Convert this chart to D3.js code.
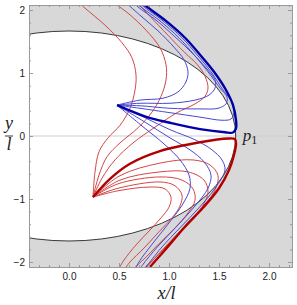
<!DOCTYPE html>
<html>
<head>
<meta charset="utf-8">
<script src="https://cdn.jsdelivr.net/npm/d3@7"></script>
<style>
  body { margin: 0; background: #fff; }
  .tick text { font-family: "Liberation Sans", "DejaVu Sans", sans-serif; font-size: 10px; fill: #222; }
</style>
</head>
<body>
<svg id="chart" width="297" height="305"></svg>
<script>
// ---- data (x/l, y/l) ----
const xTicks = [0, 0.5, 1, 1.5, 2];
const yTicks = [-2, -1, 0, 1, 2];
const xTickLabels = ["0.0", "0.5", "1.0", "1.5", "2.0"];
const yTickLabels = ["\u22122", "\u22121", "0", "1", "2"];
const boundaryRadius = 1.667;
const p1 = [1.667, 0];

// blue family, launched from (0.48, 0.49)
const blueThin = [
  [[0.48,0.49],[0.71,0.57],[0.94,0.60],[1.09,0.70],[1.17,0.86],[1.19,1.02],[1.15,1.21],[1.05,1.41],[0.89,1.67],[0.73,1.89],[0.56,2.13],[0.54,2.16]],
  [[0.48,0.49],[0.71,0.52],[1.01,0.52],[1.26,0.57],[1.40,0.65],[1.46,0.76],[1.46,0.89],[1.37,1.08],[1.23,1.32],[1.07,1.56],[0.87,1.84],[0.69,2.05],[0.62,2.16]],
  [[0.48,0.49],[0.71,0.48],[1.01,0.44],[1.31,0.43],[1.49,0.44],[1.57,0.51],[1.58,0.62],[1.51,0.76],[1.39,1.02],[1.25,1.29],[1.10,1.56],[0.90,1.84],[0.72,2.05],[0.65,2.16]],
  [[0.48,0.49],[0.71,0.44],[1.01,0.37],[1.31,0.30],[1.53,0.25],[1.62,0.27],[1.65,0.37],[1.63,0.54],[1.54,0.73],[1.42,1.02],[1.28,1.29],[1.13,1.56],[0.93,1.84],[0.75,2.05],[0.67,2.16]],
  [[0.48,0.49],[0.76,0.29],[1.01,0.10],[1.26,-0.06],[1.43,-0.22],[1.53,-0.38],[1.56,-0.54],[1.46,-0.83],[1.30,-1.14],[1.12,-1.44],[0.92,-1.78],[0.77,-2.08],[0.73,-2.16]],
  [[0.48,0.49],[0.76,0.22],[1.01,-0.03],[1.21,-0.22],[1.35,-0.41],[1.42,-0.62],[1.39,-0.83],[1.26,-1.11],[1.08,-1.43],[0.89,-1.75],[0.73,-2.06],[0.69,-2.16]],
  [[0.48,0.49],[0.73,0.16],[0.96,-0.14],[1.11,-0.38],[1.20,-0.62],[1.21,-0.83],[1.13,-1.10],[0.99,-1.40],[0.84,-1.70],[0.70,-2.00],[0.65,-2.16]]
];
const blueThick = [[0.48,0.49],[0.78,0.30],[1.01,0.21],[1.31,0.11],[1.56,0.06],[1.64,0.055],[1.67,0.12],[1.67,0.25],[1.64,0.49],[1.57,0.73],[1.45,1.02],[1.31,1.29],[1.16,1.56],[0.96,1.84],[0.78,2.05],[0.69,2.16]];

// red family, launched from (0.24, -0.97)
const redThin = [
  [[0.24,-0.97],[0.26,-0.57],[0.30,-0.25],[0.39,-0.03],[0.51,0.17],[0.61,0.44],[0.66,0.73],[0.67,0.97],[0.63,1.24],[0.53,1.48],[0.36,1.76],[0.16,2.03],[0.07,2.16]],
  [[0.24,-0.97],[0.30,-0.62],[0.38,-0.33],[0.51,-0.11],[0.69,0.13],[0.83,0.38],[0.92,0.63],[0.97,0.89],[0.97,1.13],[0.91,1.40],[0.77,1.68],[0.59,1.95],[0.43,2.13],[0.40,2.16]],
  [[0.24,-0.97],[0.33,-0.67],[0.46,-0.38],[0.64,-0.11],[0.86,0.14],[1.08,0.37],[1.26,0.51],[1.36,0.63],[1.39,0.76],[1.36,0.95],[1.28,1.14],[1.16,1.32],[0.99,1.60],[0.81,1.90],[0.69,2.11],[0.67,2.16]],
  [[0.24,-0.97],[0.51,-0.63],[0.91,-0.43],[1.24,-0.38],[1.41,-0.46],[1.49,-0.63],[1.45,-0.89],[1.31,-1.17],[1.14,-1.46],[0.95,-1.78],[0.79,-2.06],[0.75,-2.14]],
  [[0.24,-0.97],[0.51,-0.70],[0.91,-0.57],[1.19,-0.57],[1.35,-0.70],[1.39,-0.89],[1.33,-1.13],[1.19,-1.40],[1.02,-1.68],[0.85,-1.95],[0.72,-2.14]],
  [[0.24,-0.97],[0.49,-0.76],[0.91,-0.65],[1.13,-0.70],[1.24,-0.84],[1.26,-1.02],[1.19,-1.22],[1.06,-1.46],[0.90,-1.71],[0.74,-1.97],[0.62,-2.14]],
  [[0.24,-0.97],[0.49,-0.83],[0.91,-0.73],[1.06,-0.79],[1.13,-0.94],[1.11,-1.11],[1.03,-1.30],[0.90,-1.52],[0.75,-1.78],[0.61,-2.00],[0.55,-2.13]],
  [[0.24,-0.97],[0.49,-0.87],[0.81,-0.81],[0.96,-0.84],[1.02,-0.97],[1.00,-1.13],[0.92,-1.30],[0.80,-1.51],[0.67,-1.73],[0.55,-1.97],[0.49,-2.13]]
];
const redThick = [[0.24,-0.97],[0.41,-0.68],[0.61,-0.44],[0.91,-0.24],[1.31,-0.10],[1.59,-0.04],[1.66,-0.05],[1.67,-0.13],[1.65,-0.30],[1.60,-0.54],[1.50,-0.83],[1.34,-1.14],[1.16,-1.44],[0.96,-1.81],[0.81,-2.08],[0.77,-2.16]];

// ---- layout ----
const margin = { left: 29, right: 5, top: 5, bottom: 38 };
const width = 297, height = 305;
const innerW = width - margin.left - margin.right;
const innerH = height - margin.top - margin.bottom;

const x = d3.scaleLinear().domain([-0.4, 2.23]).range([0, innerW]);
const y = d3.scaleLinear().domain([-2.08, 2.08]).range([innerH, 0]);

const svg = d3.select("#chart");
const g = svg.append("g").attr("transform", `translate(${margin.left},${margin.top})`);

g.append("clipPath").attr("id", "clip")
  .append("rect").attr("width", innerW).attr("height", innerH);

const plot = g.append("g").attr("clip-path", "url(#clip)");

// gray background, white disk
plot.append("rect").attr("width", innerW).attr("height", innerH).attr("fill", "#d8d8d8");
plot.append("ellipse")
  .attr("cx", x(0)).attr("cy", y(0))
  .attr("rx", x(boundaryRadius) - x(0))
  .attr("ry", y(0) - y(boundaryRadius))
  .attr("fill", "#fff");

// y = 0 grid line
plot.append("line")
  .attr("x1", 0).attr("x2", innerW)
  .attr("y1", y(0)).attr("y2", y(0))
  .attr("stroke", "#cfcfcf").attr("stroke-width", 1);

plot.append("ellipse")
  .attr("cx", x(0)).attr("cy", y(0))
  .attr("rx", x(boundaryRadius) - x(0))
  .attr("ry", y(0) - y(boundaryRadius))
  .attr("fill", "none").attr("stroke", "#222").attr("stroke-width", 0.9);

const line = d3.line()
  .x((d) => x(d[0]))
  .y((d) => y(d[1]))
  .curve(d3.curveCatmullRom.alpha(0.5));

plot.selectAll(".red-thin").data(redThin).enter()
  .append("path").attr("class", "red-thin")
  .attr("d", line).attr("fill", "none")
  .attr("stroke", "#d24646").attr("stroke-width", 1);

plot.selectAll(".blue-thin").data(blueThin).enter()
  .append("path").attr("class", "blue-thin")
  .attr("d", line).attr("fill", "none")
  .attr("stroke", "#4848d4").attr("stroke-width", 1);

plot.append("path").datum(redThick)
  .attr("d", line).attr("fill", "none")
  .attr("stroke", "#b00000").attr("stroke-width", 2.4);

plot.append("path").datum(blueThick)
  .attr("d", line).attr("fill", "none")
  .attr("stroke", "#0000aa").attr("stroke-width", 2.4);

// ---- frame and ticks ----
const frameColor = "#9a9a9a";
const xMinor = d3.range(-0.4, 2.2301, 0.1).filter((v) => Math.abs(Math.round(v * 2) / 2 - v) > 1e-6);
const yMinor = d3.range(-2.0, 2.0001, 0.2).filter((v) => Math.abs(Math.round(v) - v) > 1e-6);

function styleAxis(sel) {
  sel.select(".domain").attr("stroke", frameColor);
  sel.selectAll(".tick line").attr("stroke", frameColor);
}

g.append("g").attr("transform", `translate(0,${innerH})`)
  .call(d3.axisBottom(x).tickValues(xTicks).tickSize(-4).tickPadding(6)
    .tickFormat((d, i) => xTickLabels[i]))
  .call(styleAxis);
g.append("g").attr("transform", `translate(0,${innerH})`)
  .call(d3.axisBottom(x).tickValues(xMinor).tickSize(-2).tickFormat(""))
  .call(styleAxis);
g.append("g")
  .call(d3.axisTop(x).tickValues(xTicks).tickSize(-4).tickFormat(""))
  .call(styleAxis);
g.append("g")
  .call(d3.axisTop(x).tickValues(xMinor).tickSize(-2).tickFormat(""))
  .call(styleAxis);

g.append("g")
  .call(d3.axisLeft(y).tickValues(yTicks).tickSize(-4).tickPadding(4)
    .tickFormat((d, i) => yTickLabels[i]))
  .call(styleAxis);
g.append("g")
  .call(d3.axisLeft(y).tickValues(yMinor).tickSize(-2).tickFormat(""))
  .call(styleAxis);
g.append("g").attr("transform", `translate(${innerW},0)`)
  .call(d3.axisRight(y).tickValues(yTicks).tickSize(-4).tickFormat(""))
  .call(styleAxis);
g.append("g").attr("transform", `translate(${innerW},0)`)
  .call(d3.axisRight(y).tickValues(yMinor).tickSize(-2).tickFormat(""))
  .call(styleAxis);

g.selectAll(".domain").attr("stroke-width", 1);

// ---- labels ----
const serif = '"Liberation Serif", "DejaVu Serif", serif';

// p1 label
const p1Label = g.append("text")
  .attr("x", x(p1[0]) + 7).attr("y", y(p1[1]) + 5)
  .attr("font-family", serif).attr("font-style", "italic").attr("font-size", 17).attr("fill", "#222");
p1Label.append("tspan").text("p");
p1Label.append("tspan").attr("font-style", "normal").attr("font-size", 12).attr("dy", 3).text("1");

// y/l fraction on the left
const yLab = svg.append("g").attr("transform", `translate(9,${margin.top + y(0)})`);
yLab.append("text").attr("y", -7).attr("text-anchor", "middle")
  .attr("font-family", serif).attr("font-style", "italic").attr("font-size", 18).attr("fill", "#222").text("y");
yLab.append("line").attr("x1", -4).attr("x2", 4).attr("y1", 0).attr("y2", 0)
  .attr("stroke", "#222").attr("stroke-width", 0.9);
yLab.append("text").attr("y", 14).attr("text-anchor", "middle")
  .attr("font-family", serif).attr("font-style", "italic").attr("font-size", 18).attr("fill", "#222").text("l");

// x/l at the bottom
svg.append("text")
  .attr("x", margin.left + innerW / 2 + 6).attr("y", 299)
  .attr("text-anchor", "middle")
  .attr("font-family", serif).attr("font-style", "italic").attr("font-size", 18).attr("fill", "#222")
  .text("x/l");
</script>
</body>
</html>
